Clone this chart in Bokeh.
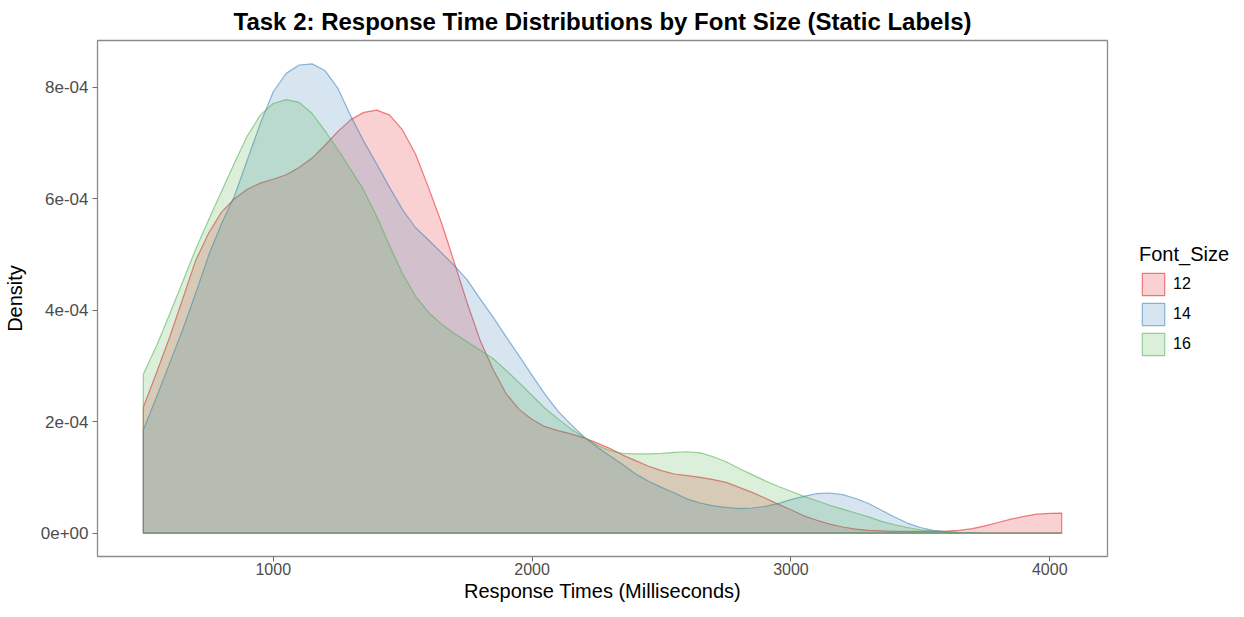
from bokeh.plotting import figure
from bokeh.layouts import row
from bokeh.models import Range1d, FixedTicker, Legend, LegendItem
from bokeh.embed import file_html
from bokeh.resources import INLINE

# ---------------- data ----------------
response_ms = [498, 550, 600, 650, 700, 750, 800, 850, 900, 950,
               1000, 1050, 1100, 1150, 1200, 1250, 1300, 1350, 1400, 1450,
               1500, 1550, 1600, 1650, 1700, 1750, 1800, 1850, 1900, 1950,
               2000, 2050, 2100, 2150, 2200, 2250, 2300, 2350, 2400, 2450,
               2500, 2550, 2600, 2650, 2700, 2750, 2800, 2850, 2900, 2950,
               3000, 3050, 3100, 3150, 3200, 3250, 3300, 3350, 3400, 3450,
               3500, 3550, 3600, 3650, 3700, 3750, 3800, 3850, 3900, 3950,
               4000, 4046]

# densities in units of 1e-4
density_12 = [2.26, 2.89, 3.52, 4.20, 4.89, 5.38, 5.76, 6.00, 6.17, 6.28,
               6.35, 6.43, 6.56, 6.73, 6.96, 7.21, 7.42, 7.55, 7.59, 7.50,
               7.23, 6.80, 6.20, 5.57, 4.85, 4.12, 3.45, 2.93, 2.50, 2.22,
               2.04, 1.91, 1.84, 1.78, 1.71, 1.62, 1.52, 1.40, 1.30, 1.20,
               1.12, 1.06, 1.03, 1.00, 0.96, 0.91, 0.82, 0.73, 0.63, 0.52,
               0.42, 0.31, 0.23, 0.16, 0.11, 0.07, 0.05, 0.04, 0.03, 0.03,
               0.03, 0.03, 0.035, 0.05, 0.08, 0.13, 0.19, 0.25, 0.30, 0.34,
               0.355, 0.36]

density_14 = [1.85, 2.45, 3.05, 3.65, 4.30, 4.98, 5.55, 6.05, 6.70, 7.35,
              7.92, 8.25, 8.40, 8.42, 8.30, 7.98, 7.48, 7.03, 6.62, 6.20,
              5.80, 5.48, 5.26, 5.03, 4.80, 4.54, 4.20, 3.87, 3.52, 3.18,
              2.83, 2.49, 2.19, 1.95, 1.73, 1.55, 1.39, 1.23, 1.06, 0.93,
              0.82, 0.72, 0.61, 0.54, 0.49, 0.46, 0.44, 0.45, 0.48, 0.53,
              0.60, 0.66, 0.71, 0.72, 0.69, 0.62, 0.53, 0.41, 0.29, 0.18,
              0.10, 0.05, 0.025, 0.01, 0.004, 0.001, 0.0, 0.0, 0.0, 0.0,
              0.0, 0.0]

density_16 = [2.85, 3.37, 3.93, 4.51, 5.09, 5.62, 6.13, 6.64, 7.13, 7.50,
              7.71, 7.78, 7.73, 7.53, 7.22, 6.88, 6.52, 6.15, 5.68, 5.15,
              4.65, 4.25, 3.96, 3.75, 3.58, 3.43, 3.28, 3.13, 2.92, 2.70,
              2.47, 2.24, 2.05, 1.87, 1.72, 1.58, 1.48, 1.43, 1.42, 1.42,
              1.43, 1.45, 1.46, 1.44, 1.37, 1.28, 1.16, 1.05, 0.94, 0.84,
              0.75, 0.66, 0.58, 0.50, 0.43, 0.36, 0.29, 0.21, 0.15, 0.10,
              0.06, 0.035, 0.02, 0.01, 0.005, 0.002, 0.0, 0.0, 0.0, 0.0,
              0.0, 0.0]

series_names = ["12", "14", "16"]
series_colors = ["#E41A1C", "#377EB8", "#4DAF4A"]
x_ticks = [1000, 2000, 3000, 4000]
y_ticks = [0.0, 2e-4, 4e-4, 6e-4, 8e-4]
y_tick_labels = ["0e+00", "2e-04", "4e-04", "6e-04", "8e-04"]

title_text = "Task 2: Response Time Distributions by Font Size (Static Labels)"
x_label = "Response Times (Milliseconds)"
y_label = "Density"
legend_title = "Font_Size"

FONT = "Liberation Sans"
FIG_H = 599
X_RANGE = (321, 4223)
Y_RANGE = (-4.2e-5, 8.84e-4)

polys = []
for dens in (density_12, density_14, density_16):
    ys = [v * 1e-4 for v in dens]
    polys.append((response_ms + [response_ms[-1], response_ms[0]],
                  ys + [0.0, 0.0]))

# ---------------- main figure ----------------
p = figure(frame_width=1010, frame_height=516, output_backend="svg",
           toolbar_location=None,
           x_range=Range1d(*X_RANGE), y_range=Range1d(*Y_RANGE),
           min_border_left=89, min_border_right=5, min_border_top=20,
           min_border_bottom=30)

p.title.text = title_text
p.title.align = "center"
p.title.text_font = FONT
p.title.text_font_size = "24px"
p.title.text_font_style = "bold"
p.title.text_color = "#000000"
p.title.standoff = 11

p.xgrid.visible = False
p.ygrid.visible = False
p.outline_line_color = "#8c8c8c"
p.outline_line_width = 1.3
p.background_fill_color = "white"
p.border_fill_color = "white"

for ax in (p.xaxis[0], p.yaxis[0]):
    ax.axis_line_color = None
    ax.major_tick_line_color = "#6e6e6e"
    ax.major_tick_out = 5
    ax.major_tick_in = 0
    ax.minor_tick_line_color = None
    ax.major_label_text_font = FONT
    ax.major_label_text_font_size = "16px"
    ax.major_label_text_color = "#4d4d4d"
    ax.axis_label_text_font = FONT
    ax.axis_label_text_font_size = "20px"
    ax.axis_label_text_font_style = "normal"
    ax.axis_label_text_color = "#000000"

p.yaxis.major_label_text_font_size = "17px"

p.xaxis.ticker = FixedTicker(ticks=x_ticks)
p.xaxis.axis_label = x_label
p.xaxis.major_label_standoff = 1
p.xaxis.axis_label_standoff = 2

p.yaxis.ticker = FixedTicker(ticks=y_ticks)
p.yaxis.major_label_overrides = {t: s for t, s in zip(y_ticks, y_tick_labels)}
p.yaxis.axis_label = y_label
p.yaxis.major_label_standoff = 4
p.yaxis.axis_label_standoff = 12

for color, (xs_poly, ys_poly) in zip(series_colors, polys):
    p.patch(xs_poly, ys_poly, fill_color=color, fill_alpha=0.2,
            line_color=color, line_alpha=0.55, line_width=1.2,
            line_join="round")

# ---------------- legend panel (separate narrow figure) ----------------
# its range lies outside the data, so its patches only feed the legend keys
leg = figure(width=124, height=FIG_H, output_backend="svg",
             toolbar_location=None, x_axis_type=None, y_axis_type=None,
             x_range=Range1d(-2, -1), y_range=Range1d(-2, -1),
             min_border_left=0, min_border_right=0, min_border_top=0,
             min_border_bottom=0)
leg.outline_line_color = None
leg.xgrid.visible = False
leg.ygrid.visible = False
leg.background_fill_color = "white"
leg.border_fill_color = "white"

items = []
for name, color, (xs_poly, ys_poly) in zip(series_names, series_colors, polys):
    r = leg.patch(xs_poly, ys_poly, fill_color=color, fill_alpha=0.2,
                  line_color=color, line_alpha=0.55, line_width=1.2)
    items.append(LegendItem(label=name, renderers=[r]))

legend = Legend(items=items, location=(27, 193))
legend.title = legend_title
legend.title_text_font = FONT
legend.title_text_font_size = "20px"
legend.title_text_font_style = "normal"
legend.title_text_color = "#000000"
legend.title_standoff = 4
legend.label_text_font = FONT
legend.label_text_font_size = "16px"
legend.label_text_color = "#000000"
legend.glyph_width = 28
legend.glyph_height = 28
legend.label_height = 28
legend.label_standoff = 6
legend.spacing = 2
legend.padding = 0
legend.margin = 0
legend.border_line_color = None
legend.background_fill_alpha = 0
leg.add_layout(legend)

layout = row(p, leg, spacing=0)

open("out.html", "w").write(file_html(layout, INLINE))
